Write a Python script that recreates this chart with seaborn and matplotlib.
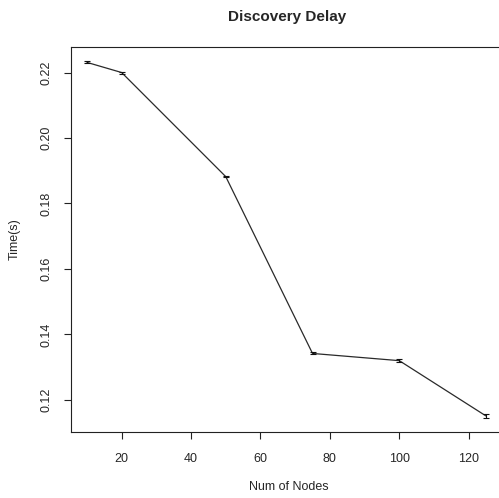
import numpy as np
import pandas as pd
import matplotlib
matplotlib.use("Agg")
import matplotlib.pyplot as plt
import seaborn as sns

nodes = [10, 20, 50, 75, 100, 125]
delay = [0.2231, 0.2200, 0.1882, 0.1342, 0.1320, 0.1151]
err = [0.0003, 0.0003, 0.0002, 0.0003, 0.0004, 0.0005]
xticks = [20, 40, 60, 80, 100, 120]
yticks = [0.12, 0.14, 0.16, 0.18, 0.20, 0.22]

sns.set_style("white")
plt.rcParams['font.family'] = ['Liberation Sans', 'DejaVu Sans']

W, H = 499, 498
fig = plt.figure(figsize=(W / 100, H / 100), dpi=100)
left, right, top, bottom = 71, 502, 47, 431.7
ax = fig.add_axes([left / W, (H - bottom) / H, (right - left) / W, (bottom - top) / H])

df = pd.DataFrame({"Num of Nodes": nodes, "Time(s)": delay})
sns.lineplot(data=df, x="Num of Nodes", y="Time(s)", ax=ax, color="#2a2a2a", lw=0.9)
ax.errorbar(nodes, delay, yerr=err, fmt="none", ecolor="#111111",
            elinewidth=0.8, capsize=2.5, capthick=0.8)

ax.set_xlim(5.4, 129.6)
ax.set_ylim(0.1103, 0.2278)
ax.set_xticks(xticks)
ax.set_xticklabels([str(v) for v in xticks], fontsize=9)
ax.set_yticks(yticks)
ax.set_yticklabels([f"{v:.2f}" for v in yticks], fontsize=9, rotation=90, va="center")
ax.tick_params(axis="both", direction="out", length=5, width=0.8, color="#222222",
               bottom=True, left=True)
ax.tick_params(axis="x", pad=10)
ax.tick_params(axis="y", pad=8)
for s in ax.spines.values():
    s.set_color("#222222")
    s.set_linewidth(0.8)

ax.set_xlabel("Num of Nodes", fontsize=9)
ax.set_ylabel("Time(s)", fontsize=9)
ax.xaxis.set_label_coords((288.5 - left) / (right - left), (bottom - 487) / (bottom - top))
ax.xaxis.label.set_va("center")
ax.yaxis.set_label_coords((15 - left) / (right - left), 0.5)
ax.yaxis.label.set_va("center")

fig.text(287 / W, 1 - 17 / H, "Discovery Delay", ha="center", va="center",
         fontsize=11, fontweight="bold")

fig.savefig("out.png", dpi=100)
